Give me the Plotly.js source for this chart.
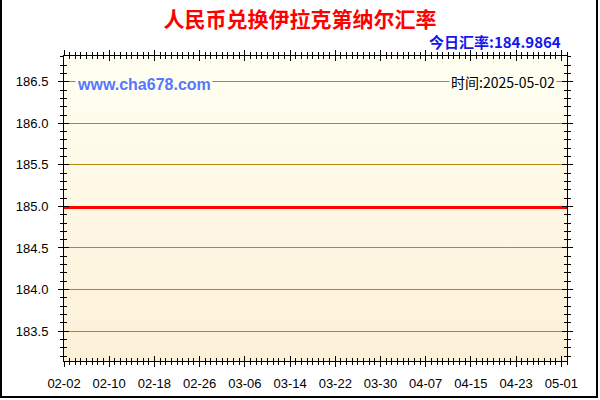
<!DOCTYPE html>
<html>
<head>
<meta charset="utf-8">
<script src="https://cdn.plot.ly/plotly-3.0.1.min.js"></script>
<style>
  html, body { margin: 0; padding: 0; background: #ffffff; }
  #wrap { position: relative; width: 600px; height: 400px; }
  #chart { position: absolute; left: 0; top: 0; width: 600px; height: 400px; }
  .bd { position: absolute; background: #000; }
</style>
</head>
<body>
<div id="wrap">
  <div id="chart"></div>
  <div class="bd" style="left:0;top:0;width:2px;height:398px;"></div>
  <div class="bd" style="left:596px;top:0;width:2px;height:398px;"></div>
  <div class="bd" style="left:0;top:396px;width:598px;height:2px;"></div>
</div>
<script>
// ---- data ----
const chartTitle = '人民币兑换伊拉克第纳尔汇率';
const todayLabel = '今日汇率:184.9864';
const timeLabel = '时间:2025-05-02';
const siteLabel = 'www.cha678.com';
const dates = ['2025-02-02','2025-02-10','2025-02-18','2025-02-26','2025-03-06','2025-03-14',
               '2025-03-22','2025-03-30','2025-04-07','2025-04-15','2025-04-23','2025-05-01','2025-05-02'];
const rates = [184.9864,184.9864,184.9864,184.9864,184.9864,184.9864,
               184.9864,184.9864,184.9864,184.9864,184.9864,184.9864,184.9864];
const xRange = ['2025-02-02','2025-05-02'];
const yRange = [183.14, 186.81];

const gradSvg = 'data:image/svg+xml;utf8,' + encodeURIComponent(
  '<svg xmlns="http://www.w3.org/2000/svg" width="10" height="100" preserveAspectRatio="none">' +
  '<defs><linearGradient id="g" x1="0" y1="0" x2="0" y2="1">' +
  '<stop offset="0" stop-color="#FFFFF1"/><stop offset="1" stop-color="#FDF0D8"/></linearGradient></defs>' +
  '<rect width="10" height="100" fill="url(#g)"/></svg>');

const tickFont = {family: 'Liberation Sans, Arial, sans-serif', size: 13, color: '#000'};

const baseX = {
  type: 'date', range: xRange, tick0: '2025-02-02', dtick: 8*86400000,
  tickformat: '%m-%d', showgrid: false, zeroline: false,
  showline: true, linecolor: '#000', linewidth: 1,
  ticklen: 5, tickcolor: '#000', tickwidth: 1,
  minor: {dtick: 86400000, ticklen: 3, tickcolor: '#000', tickwidth: 1, ticks: 'outside', showgrid: false}
};
const baseY = {
  range: yRange, tick0: 0, dtick: 0.5, tickformat: '.1f', zeroline: false,
  showline: true, linecolor: '#000', linewidth: 1,
  ticklen: 5, tickcolor: '#000', tickwidth: 1,
  minor: {dtick: 0.1, ticklen: 3, tickcolor: '#000', tickwidth: 1, ticks: 'outside', showgrid: false}
};

const layout = {
  width: 600, height: 400,
  margin: {l: 64, r: 33, t: 56, b: 39, pad: 0},
  paper_bgcolor: '#ffffff', plot_bgcolor: 'rgba(0,0,0,0)',
  showlegend: false,
  title: {text: chartTitle, x: 0.5, xanchor: 'center', y: 0.95, yanchor: 'middle', yref: 'container',
          font: {family: 'Noto Sans CJK SC, sans-serif', size: 21, color: '#FF0000', weight: 'bold'}},
  xaxis: Object.assign({}, baseX, {ticks: 'outside', mirror: 'allticks', tickfont: tickFont, ticklabelstandoff: 5}),
  xaxis2: Object.assign({}, baseX, {ticks: 'inside', mirror: 'allticks', overlaying: 'x', showticklabels: false,
                        minor: Object.assign({}, baseX.minor, {ticks: 'inside'})}),
  yaxis: Object.assign({}, baseY, {ticks: 'outside', mirror: 'allticks', tickfont: tickFont, ticklabelstandoff: 7,
                       showgrid: true, gridcolor: '#B8860B', gridwidth: 1}),
  yaxis2: Object.assign({}, baseY, {ticks: 'inside', mirror: 'allticks', overlaying: 'y', showticklabels: false, showgrid: false,
                        minor: Object.assign({}, baseY.minor, {ticks: 'inside'})}),
  images: [{source: gradSvg, xref: 'paper', yref: 'paper', x: 0, y: 1, sizex: 1, sizey: 1,
            xanchor: 'left', yanchor: 'top', sizing: 'stretch', layer: 'below'}],
  annotations: [
    {text: todayLabel, xref: 'paper', yref: 'paper', x: 0.992, y: 1.046, xanchor: 'right', yanchor: 'middle',
     showarrow: false, font: {family: 'Noto Sans CJK SC, sans-serif', size: 15, color: '#1515EE', weight: 'bold'}},
    {text: siteLabel, xref: 'paper', yref: 'paper', x: 0.022, y: 0.908, xanchor: 'left', yanchor: 'middle',
     showarrow: false, bgcolor: '#FFFFF1', borderpad: 1,
     font: {family: 'Liberation Sans, Arial, sans-serif', size: 16, color: '#5577FF', weight: 'bold'}},
    {text: timeLabel, xref: 'paper', yref: 'paper', x: 0.981, y: 0.915, xanchor: 'right', yanchor: 'middle',
     showarrow: false, bgcolor: '#FFFFF1', borderpad: 1,
     font: {family: 'Noto Sans CJK SC, sans-serif', size: 14, color: '#000'}}
  ]
};

const traces = [
  {x: dates, y: rates, type: 'scatter', mode: 'lines', line: {color: '#FF0000', width: 3}, hoverinfo: 'skip'},
  {x: xRange, y: yRange, xaxis: 'x2', yaxis: 'y2', type: 'scatter', mode: 'markers', marker: {opacity: 0}, hoverinfo: 'skip'}
];

Plotly.newPlot('chart', traces, layout, {staticPlot: true, displayModeBar: false});
</script>
</body>
</html>
